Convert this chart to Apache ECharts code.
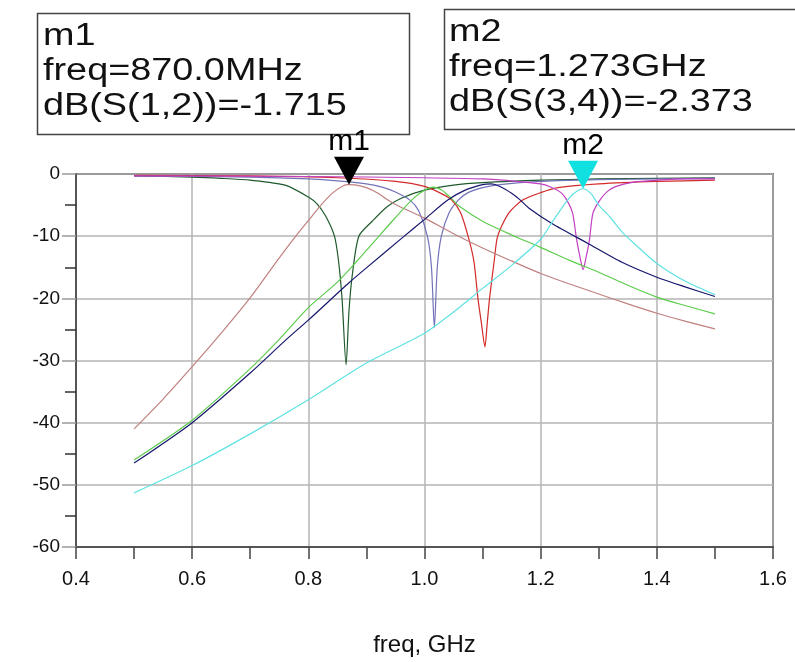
<!DOCTYPE html>
<html>
<head>
<meta charset="utf-8">
<script src="https://cdn.jsdelivr.net/npm/echarts@6/dist/echarts.min.js"></script>
<style>html,body{margin:0;padding:0;background:#fff}#c{width:795px;height:662px}</style>
</head>
<body>
<div id="c"></div>
<script>
// ---- data (freq in GHz, values in dB) ----
const xTicks = [0.4, 0.6, 0.8, 1.0, 1.2, 1.4, 1.6];
const yTicks = [0, -10, -20, -30, -40, -50, -60];

// passband 1 : dB(S(1,2))
const fS12 = [0.5,0.55,0.6,0.65,0.7,0.75,0.78,0.8,0.82,0.84,0.86,0.87,0.88,0.9,0.92,0.937,0.95,1.0,1.05,1.1,1.15,1.2,1.25,1.3,1.35,1.4,1.45,1.5];
const vS12 = [-41,-36.2,-31,-25.6,-19.9,-13.5,-9.8,-7.5,-5.2,-3.2,-1.9,-1.715,-1.75,-2.2,-3.1,-4.2,-4.9,-7.1,-9.6,-11.9,-14.0,-16.0,-17.7,-19.3,-20.9,-22.4,-23.7,-24.9];

// reflection 1 (dark green)
const fR1 = [0.5,0.6,0.65,0.7,0.76,0.8,0.815,0.83,0.845,0.852,0.858,0.865,0.87,0.876,0.887,0.91,0.935,0.96,1.0,1.05,1.1,1.2,1.3,1.4,1.5];
const vR1 = [-0.3,-0.5,-0.7,-1.0,-1.8,-3.7,-4.8,-6.8,-10,-14,-20,-30.7,-22,-16,-10,-7.6,-5.3,-3.9,-2.6,-1.8,-1.4,-1.0,-0.8,-0.7,-0.6];

// passband 2 (light green)
const fP2 = [0.5,0.6,0.7,0.75,0.8,0.85,0.9,0.95,0.98,1.0,1.015,1.03,1.045,1.06,1.1,1.15,1.2,1.25,1.3,1.35,1.4,1.45,1.5];
const vP2 = [-46,-39.6,-31.3,-26.6,-21.5,-17.4,-12.3,-7.0,-4.0,-2.6,-2.1,-2.6,-3.8,-5.2,-7.6,-9.8,-11.8,-13.9,-15.8,-17.9,-19.8,-21.2,-22.5];

// reflection 2 (slate blue)
const fR2 = [0.5,0.6,0.7,0.8,0.85,0.9,0.93,0.95,0.975,0.99,1.005,1.012,1.017,1.022,1.029,1.042,1.058,1.075,1.1,1.13,1.2,1.3,1.4,1.5];
const vR2 = [-0.3,-0.4,-0.5,-0.8,-1.1,-1.6,-2.2,-2.9,-4.2,-5.9,-10,-15,-24.7,-15,-10,-6.3,-4.2,-3.0,-2.2,-1.7,-1.2,-0.9,-0.8,-0.7];

// passband 3 (navy)
const fP3 = [0.5,0.6,0.7,0.76,0.8,0.87,0.9,0.96,1.0,1.04,1.07,1.1,1.115,1.13,1.15,1.165,1.18,1.22,1.28,1.34,1.4,1.45,1.5];
const vP3 = [-46.5,-40,-32,-26.8,-23.5,-17.5,-15.1,-10.4,-7.3,-4.2,-2.6,-1.7,-1.6,-2.0,-3.1,-4.2,-5.5,-8.0,-11.1,-14.2,-16.6,-18.2,-19.7];

// reflection 3 (red)
const fR3 = [0.5,0.7,0.85,0.95,1.0,1.03,1.047,1.062,1.075,1.085,1.092,1.098,1.104,1.108,1.112,1.12,1.126,1.145,1.169,1.2,1.23,1.3,1.4,1.5];
const vR3 = [-0.2,-0.3,-0.6,-1.2,-2.0,-3.2,-4.2,-6.2,-10,-14,-20,-24,-27.8,-24,-20,-14,-10,-6.3,-4.2,-3.0,-2.2,-1.6,-1.2,-1.0];

// passband 4 (cyan) : dB(S(3,4))
const fS34 = [0.5,0.6,0.7,0.8,0.9,1.0,1.05,1.1,1.15,1.2,1.22,1.24,1.255,1.273,1.287,1.3,1.32,1.34,1.36,1.4,1.45,1.5];
const vS34 = [-51.3,-46.9,-41.8,-36.3,-30.4,-25.6,-22.2,-18.4,-14.7,-10.5,-7.7,-5.0,-3.3,-2.373,-3.2,-5.0,-7.0,-9.3,-11.1,-14.4,-17.3,-19.4];

// reflection 4 (magenta)
const fR4 = [0.5,0.8,1.0,1.1,1.15,1.2,1.22,1.235,1.245,1.255,1.262,1.268,1.273,1.278,1.284,1.29,1.302,1.315,1.33,1.36,1.4,1.45,1.5];
const vR4 = [-0.3,-0.4,-0.6,-0.8,-1.1,-1.6,-2.2,-3.0,-4.2,-6.3,-10.6,-13.5,-15.4,-13.5,-10.6,-6.3,-4.2,-2.8,-2.0,-1.3,-1.0,-0.8,-0.8];

// markers
const m1 = {name: 'm1', freq: 0.87, value: -1.715, freqText: 'freq=870.0MHz', valText: 'dB(S(1,2))=-1.715'};
const m2 = {name: 'm2', freq: 1.273, value: -2.373, freqText: 'freq=1.273GHz', valText: 'dB(S(3,4))=-2.373'};

// ---- build ----
const zip = (f, v) => f.map((x, i) => [x, v[i]]);
const FONT = '"Liberation Sans", Arial, sans-serif';
const triPath = 'path://M0,0 L30,0 L15,28 Z';

function line(name, f, v, color, mark) {
  const s = {
    name, type: 'line', data: zip(f, v), showSymbol: false, symbol: 'none',
    smooth: 0.25,
    lineStyle: {color, width: 1.2}, itemStyle: {color},
    animation: false, silent: true
  };
  if (mark) {
    s.markPoint = {
      symbol: triPath, symbolSize: [30, 28], symbolOffset: [0, '-50%'],
      itemStyle: {color: mark.color},
      label: {show: true, position: 'top', distance: 0, formatter: mark.m.name,
              fontSize: 30, fontFamily: FONT, color: '#000'},
      data: [{coord: [mark.m.freq, mark.m.value]}]
    };
  }
  return s;
}

const chart = echarts.init(document.getElementById('c'), null, {renderer: 'canvas'});
chart.setOption({
  animation: false,
  backgroundColor: '#fff',
  grid: {left: 76, right: 22, top: 174, bottom: 114, show: true, borderColor: '#111', borderWidth: 1.5, containLabel: false},
  xAxis: {
    type: 'value', min: xTicks[0], max: xTicks[xTicks.length - 1], interval: 0.2,
    axisLine: {show: true, onZero: false, lineStyle: {color: '#555', width: 2}},
    axisTick: {show: true, length: 12, lineStyle: {color: '#444', width: 1.5}},
    minorTick: {show: true, splitNumber: 2, length: 12, lineStyle: {color: '#444', width: 1.5}},
    splitLine: {show: true, lineStyle: {color: '#b4b4b4', width: 1.5}},
    axisLabel: {margin: 22, fontSize: 20, fontFamily: FONT, color: '#111', formatter: v => v.toFixed(1)},
    name: 'freq, GHz', nameLocation: 'middle', nameGap: 86,
    nameTextStyle: {fontSize: 24, fontFamily: FONT, color: '#111'}
  },
  yAxis: {
    type: 'value', min: yTicks[yTicks.length - 1], max: yTicks[0], interval: 10,
    axisLine: {show: true, onZero: false, lineStyle: {color: '#555', width: 2}},
    axisTick: {show: true, length: 14, lineStyle: {color: '#999', width: 1.5}},
    minorTick: {show: true, splitNumber: 2, length: 11, lineStyle: {color: '#333', width: 1.5}},
    splitLine: {show: true, lineStyle: {color: '#b4b4b4', width: 1.5}},
    axisLabel: {margin: 16, fontSize: 19, fontFamily: FONT, color: '#111'}
  },
  series: [
    line('R1', fR1, vR1, '#1f5a2d'),
    line('R2', fR2, vR2, '#7272b8'),
    line('R3', fR3, vR3, '#d22a2a'),
    line('R4', fR4, vR4, '#c040c0'),
    line('S12', fS12, vS12, '#c08080', {m: m1, color: '#000'}),
    line('P2', fP2, vP2, '#5ccc4c'),
    line('P3', fP3, vP3, '#16166e'),
    line('S34', fS34, vS34, '#5fe2e2', {m: m2, color: '#10e0e0'})
  ],
  graphic: [
    {type: 'rect', left: 35, top: 11, shape: {width: 372, height: 121},
     style: {fill: 'none', stroke: '#444', lineWidth: 1.5}, z: 1},
    {type: 'text', x: 43, y: 19, scaleX: 1.22, z: 11,
     style: {text: [m1.name, m1.freqText, m1.valText].join('\n'), fontSize: 31, lineHeight: 35,
             fontFamily: FONT, fill: '#111', textAlign: 'left', textVerticalAlign: 'top'}},
    {type: 'rect', left: 442, top: 7, shape: {width: 380, height: 120},
     style: {fill: 'none', stroke: '#444', lineWidth: 1.5}, z: 1},
    {type: 'text', x: 449, y: 15, scaleX: 1.22, z: 11,
     style: {text: [m2.name, m2.freqText, m2.valText].join('\n'), fontSize: 31, lineHeight: 35,
             fontFamily: FONT, fill: '#111', textAlign: 'left', textVerticalAlign: 'top'}}
  ]
});
</script>
</body>
</html>
